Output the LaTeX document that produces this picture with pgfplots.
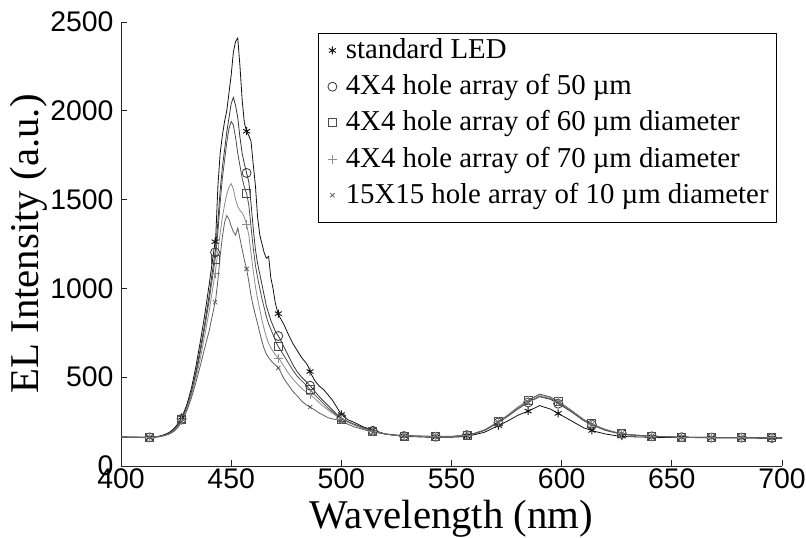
\documentclass[border=0pt]{standalone}
\usepackage{fontspec}
\setmainfont{Liberation Serif}
\newfontfamily\arial{Liberation Sans}
\usepackage{pgfplots}
\pgfplotsset{compat=1.18}
\definecolor{cA}{HTML}{111111}
\definecolor{cB}{HTML}{363636}
\definecolor{cC}{HTML}{4C4C4C}
\definecolor{cD}{HTML}{8C8C8C}
\definecolor{cE}{HTML}{5E5E5E}
\begin{document}
\begin{tikzpicture}
\path[use as bounding box] (-121bp,-72bp) rectangle (685bp,466bp);
\begin{axis}[
  at={(0bp,0bp)}, anchor=south west,
  scale only axis, width=661bp, height=444bp,
  xmin=400, xmax=700, ymin=0, ymax=2500,
  axis lines=left,
  axis line style={-, line width=0.8bp, black!85},
  tick align=inside, major tick length=6bp,
  tick style={line width=0.8bp, black!85},
  xtick={400,450,...,700}, ytick={0,500,...,2500},
  /pgf/number format/assume math mode=true,
  /pgf/number format/set thousands separator={},
  ticklabel style={font=\arial\fontsize{28.5}{28.5}\selectfont},
  xticklabel style={yshift=1bp},
  yticklabel style={xshift=-4bp},
  xlabel={Wavelength (nm)}, ylabel={EL Intensity (a.u.)},
  xlabel style={font=\fontsize{41}{41}\selectfont, at={(axis description cs:0.5,0)}, anchor=center, yshift=-53bp},
  ylabel style={font=\fontsize{41}{41}\selectfont, at={(axis description cs:-0.1392,0.5)}, anchor=center},
  legend style={at={(axis description cs:0.9924,0.975)}, anchor=north east,
    draw=black, line width=0.8bp, inner sep=5bp,
    font=\fontsize{28.9}{28.9}\selectfont,
    nodes={inner sep=3bp, text height=17bp, text depth=11bp},
    row sep=2.2bp},
  legend cell align=left,
  legend image code/.code={\path (0bp,0bp) (19bp,0bp); \draw[#1] plot coordinates {(9bp,5bp)};},
  every axis plot/.append style={line width=0.8bp},
]
% ---------- lines ----------
\addplot[cA, forget plot] coordinates {
(400,165)(405,163)(410,162)(413,160)(415,163)(418,170)(420,178)(422,190)(424,210)(426,240)(428,285)(430,350)(432,440)(434,560)(436,700)(438,850)(440,1020)(441,1110)(442,1200)(443,1290)(444,1580)(445,1760)(446,1860)(447,1940)(448,2000)(449,2100)(450,2200)(451,2330)(452,2390)(453,2410)(454,2250)(455,2060)(456,1930)(457,1885)(458,1860)(459,1830)(460,1700)(461,1580)(462,1400)(463,1300)(464,1250)(465,1200)(466,1170)(467,1180)(468,1060)(469,1000)(470,920)(471,870)(472,840)(474,795)(476,740)(478,690)(480,650)(482,610)(484,580)(485,560)(486,525)(488,480)(490,450)(492,430)(494,400)(496,370)(498,330)(500,290)(503,260)(506,245)(510,220)(515,200)(520,180)(525,172)(530,166)(540,162)(550,162)(555,165)(560,175)(565,190)(570,220)(575,250)(580,285)(585,310)(590,340)(595,320)(600,285)(605,250)(610,215)(615,195)(620,180)(625,170)(630,165)(640,162)(650,160)(660,160)(670,158)(680,158)(690,157)(700,157)};
\addplot[cB, forget plot] coordinates {
(400,162)(405,161)(410,160)(415,162)(418,168)(420,175)(422,186)(424,205)(426,235)(428,275)(430,335)(432,420)(434,530)(436,660)(438,800)(440,960)(441,1050)(442,1140)(443,1230)(444,1380)(445,1550)(446,1680)(447,1780)(448,1880)(449,1960)(450,2040)(451,2075)(452,2030)(453,1960)(454,1850)(455,1760)(456,1700)(457,1650)(458,1600)(459,1480)(460,1340)(461,1220)(462,1140)(463,1080)(464,1020)(465,960)(466,900)(467,860)(468,820)(469,790)(470,760)(471,740)(472,720)(474,670)(476,620)(478,570)(480,530)(482,500)(484,475)(486,450)(488,420)(490,390)(492,365)(494,340)(496,315)(498,290)(500,270)(503,250)(506,235)(510,215)(515,195)(520,180)(525,172)(530,168)(540,165)(550,165)(555,170)(560,180)(565,200)(570,235)(575,275)(580,320)(585,360)(590,390)(595,375)(600,340)(605,300)(610,255)(615,225)(620,200)(625,185)(630,175)(640,167)(650,163)(660,160)(670,160)(680,160)(690,158)(700,158)};
\addplot[cC, forget plot] coordinates {
(400,163)(405,162)(410,161)(415,162)(418,167)(420,174)(422,184)(424,200)(426,230)(428,270)(430,328)(432,410)(434,515)(436,640)(438,780)(440,930)(441,1020)(442,1100)(443,1190)(444,1320)(445,1480)(446,1620)(447,1720)(448,1820)(449,1900)(450,1940)(451,1920)(452,1850)(453,1760)(454,1690)(455,1620)(456,1570)(457,1535)(458,1470)(459,1350)(460,1230)(461,1130)(462,1060)(463,1000)(464,940)(465,890)(466,840)(467,800)(468,770)(469,740)(470,710)(471,680)(472,660)(474,620)(476,580)(478,540)(480,505)(482,480)(484,455)(486,428)(488,400)(490,375)(492,350)(494,325)(496,305)(498,285)(500,265)(503,248)(506,232)(510,212)(515,194)(520,180)(525,172)(530,168)(540,165)(550,166)(555,171)(560,182)(565,203)(570,240)(575,282)(580,330)(585,372)(590,405)(595,388)(600,352)(605,308)(610,262)(615,230)(620,205)(625,188)(630,177)(640,168)(650,164)(660,162)(670,161)(680,160)(690,159)(700,159)};
\addplot[cD, forget plot] coordinates {
(400,164)(405,162)(410,161)(415,162)(418,166)(420,173)(422,182)(424,198)(426,225)(428,265)(430,325)(432,400)(434,495)(436,605)(438,735)(440,870)(441,950)(442,1030)(443,1110)(444,1210)(445,1310)(446,1400)(447,1470)(448,1530)(449,1570)(450,1590)(451,1560)(452,1500)(453,1460)(454,1440)(455,1425)(456,1400)(457,1360)(458,1300)(459,1200)(460,1100)(461,1010)(462,940)(463,880)(464,820)(465,770)(466,725)(467,690)(468,665)(469,645)(470,628)(471,612)(472,600)(474,560)(476,522)(478,490)(480,462)(482,437)(484,417)(486,400)(488,380)(490,356)(492,335)(494,315)(496,297)(498,280)(500,264)(503,246)(506,230)(510,210)(515,193)(520,180)(525,173)(530,169)(540,166)(550,166)(555,171)(560,182)(565,202)(570,238)(575,280)(580,328)(585,370)(590,400)(595,385)(600,350)(605,305)(610,260)(615,228)(620,204)(625,187)(630,177)(640,168)(650,164)(660,162)(670,161)(680,160)(690,160)(700,159)};
\addplot[cE, forget plot] coordinates {
(400,163)(405,162)(410,161)(415,162)(418,166)(420,172)(422,180)(424,195)(426,220)(428,258)(430,315)(432,385)(434,470)(436,565)(438,665)(440,760)(441,820)(442,880)(443,940)(444,1050)(445,1180)(446,1290)(447,1370)(448,1410)(449,1390)(450,1350)(451,1320)(452,1300)(453,1340)(454,1280)(455,1220)(456,1160)(457,1110)(458,1040)(459,960)(460,900)(461,850)(462,800)(463,750)(464,700)(465,660)(466,630)(467,610)(468,595)(469,580)(470,570)(471,560)(472,540)(474,490)(476,455)(478,420)(480,395)(482,365)(484,345)(486,330)(488,315)(490,298)(492,285)(494,272)(496,265)(498,260)(500,255)(503,235)(506,220)(510,205)(515,190)(520,180)(525,175)(530,172)(540,168)(550,167)(555,172)(560,182)(565,202)(570,236)(575,276)(580,322)(585,362)(590,392)(595,380)(600,345)(605,302)(610,258)(615,226)(620,203)(625,187)(630,177)(640,168)(650,164)(660,162)(670,161)(680,160)(690,160)(700,159)};
% ---------- markers ----------
\addplot[cA, only marks, mark=asterisk, mark size=4bp, mark options={line width=0.9bp}] coordinates {
(413,160)(427.5,274)(442.7,1263)(457,1885)(471.4,858)(485.8,532)(500,290)(514.3,203)(528.5,168)(542.8,162)(557,169)(571.3,228)(584.8,309)(598.4,296)(613.7,200)(627.3,168)(640.9,162)(654.5,160)(668,158)(681.7,158)(695.4,157)};
\addlegendentry{standard LED}
\addplot[cB, only marks, mark=o, mark size=4.5bp, mark options={line width=0.8bp}] coordinates {
(413,161)(427.5,265)(442.7,1203)(457,1650)(471.4,732)(485.8,452)(500,270)(514.3,198)(528.5,169)(542.8,165)(557,174)(571.3,245)(584.8,358)(598.4,351)(613.7,233)(627.3,181)(640.9,167)(654.5,162)(668,160)(681.7,160)(695.4,158)};
\addlegendentry{4X4 hole array of 50 µm}
\addplot[cC, only marks, mark=square, mark size=4bp, mark options={line width=0.8bp}] coordinates {
(413,162)(427.5,260)(442.7,1163)(457,1535)(471.4,672)(485.8,431)(500,265)(514.3,197)(528.5,169)(542.8,165)(557,175)(571.3,251)(584.8,370)(598.4,364)(613.7,238)(627.3,184)(640.9,168)(654.5,163)(668,161)(681.7,160)(695.4,159)};
\addlegendentry{4X4 hole array of 60 µm diameter}
\addplot[cD, only marks, mark=+, mark size=4.5bp, mark options={line width=0.8bp}] coordinates {
(413,163)(427.5,255)(442.7,1086)(457,1360)(471.4,607)(485.8,402)(500,264)(514.3,195)(528.5,170)(542.8,166)(557,175)(571.3,249)(584.8,368)(598.4,361)(613.7,236)(627.3,183)(640.9,168)(654.5,163)(668,161)(681.7,160)(695.4,159)};
\addlegendentry{4X4 hole array of 70 µm diameter}
\addplot[cE, only marks, mark=x, mark size=3bp, mark options={line width=0.8bp}] coordinates {
(413,162)(427.5,248)(442.7,922)(457,1110)(471.4,552)(485.8,332)(500,255)(514.3,192)(528.5,173)(542.8,168)(557,176)(571.3,246)(584.8,360)(598.4,357)(613.7,234)(627.3,182)(640.9,168)(654.5,163)(668,161)(681.7,160)(695.4,159)};
\addlegendentry{15X15 hole array of 10 µm diameter}
\end{axis}
\end{tikzpicture}
\end{document}
